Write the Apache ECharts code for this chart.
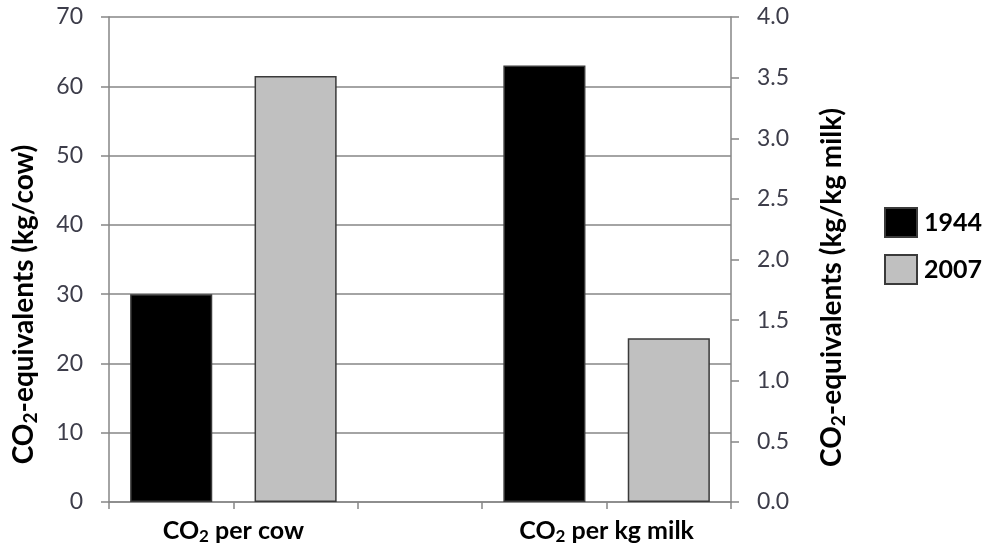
<!DOCTYPE html>
<html>
<head>
<meta charset="utf-8">
<script src="https://cdn.jsdelivr.net/npm/echarts@6/dist/echarts.min.js"></script>
<style>
html,body{margin:0;padding:0;background:#fff;}
#chart{width:991px;height:549px;}
</style>
</head>
<body>
<div id="chart"></div>
<script>
// ---- data ----
const years = ['1944', '2007'];
const perCow = [30, 61.5];          // left axis, kg/cow
const perKgMilk = [3.6, 1.35];      // right axis, kg/kg milk
const slots = ['cow-1944', 'cow-2007', 'gap', 'milk-1944', 'milk-2007'];
const groupTickLabels = ['', 'CO2 per cow', '', '', 'CO2 per kg milk', ''];
const leftTitle = 'CO2-equivalents (kg/cow)';
const rightTitle = 'CO2-equivalents (kg/kg milk)';
const colors = ['#000000', '#c0c0c0'];

const FONT = 'Lato, "Open Sans", sans-serif';
function sub(s) {
  if (!s) return '';
  const i = s.indexOf('CO2');
  if (i < 0) return '{a|' + s + '}';
  return (i > 0 ? '{a|' + s.slice(0, i) + '}' : '') + '{a|CO}{b|2}' + (s.length > i + 3 ? '{a|' + s.slice(i + 3) + '}' : '');
}
function rich(size) {
  const sb = Math.round(size * 0.68);
  return {
    a: { fontFamily: FONT, fontWeight: 'bold', fontSize: size, color: '#000', lineHeight: size + 4 },
    b: { fontFamily: FONT, fontWeight: 'bold', fontSize: sb, color: '#000', lineHeight: sb, verticalAlign: 'bottom' }
  };
}

const series = [];
years.forEach((y, i) => {
  series.push({
    name: y, type: 'bar', xAxisIndex: 0, yAxisIndex: 0,
    barGap: '-100%', barCategoryGap: '34%',
    itemStyle: { color: colors[i], borderColor: '#3a3a3a', borderWidth: 1.5 },
    data: [[slots[i], perCow[i]]]
  });
  series.push({
    name: y, type: 'bar', xAxisIndex: 0, yAxisIndex: 1,
    barGap: '-100%', barCategoryGap: '34%',
    itemStyle: { color: colors[i], borderColor: '#3a3a3a', borderWidth: 1.5 },
    data: [[slots[3 + i], perKgMilk[i]]]
  });
});

const axisGray = '#868686';
const tickColor = '#3d3d4a';
const chart = echarts.init(document.getElementById('chart'), null, { renderer: 'canvas' });
chart.setOption({
  animation: false,
  backgroundColor: '#fff',
  grid: { left: 109, right: 260, top: 17, bottom: 47, containLabel: false },
  legend: {
    data: years,
    orient: 'vertical',
    left: 884, top: 207, padding: 0,
    itemWidth: 32, itemHeight: 29, itemGap: 16,
    icon: 'rect',
    textStyle: { fontFamily: FONT, fontWeight: 'bold', fontSize: 25, color: '#000', padding: [0, 0, 0, 2] }
  },
  xAxis: [
    {
      type: 'category', data: slots, position: 'bottom',
      axisLine: { lineStyle: { color: axisGray, width: 1.5 } },
      axisTick: { show: true, interval: 0, length: 7, lineStyle: { color: axisGray, width: 1.5 } },
      axisLabel: { show: false }
    },
    {
      type: 'category', data: groupTickLabels, position: 'bottom', boundaryGap: false,
      axisLine: { show: false }, axisTick: { show: false },
      axisLabel: { interval: 0, margin: 14, formatter: v => sub(v), rich: rich(25) }
    }
  ],
  yAxis: [
    {
      type: 'value', min: 0, max: 70, interval: 10, position: 'left',
      name: sub(leftTitle), nameLocation: 'middle', nameGap: 69, nameRotate: 90,
      nameTextStyle: { rich: rich(28), padding: [0, 90, 0, 0] },
      axisLine: { show: true, lineStyle: { color: axisGray, width: 1.5 } },
      axisTick: { show: true, length: 8, lineStyle: { color: axisGray, width: 1.5 } },
      axisLabel: { margin: 26, fontFamily: FONT, fontSize: 23, color: tickColor },
      splitLine: { show: true, lineStyle: { color: axisGray, width: 1.5 } }
    },
    {
      type: 'value', min: 0, max: 4, interval: 0.5, position: 'right',
      name: sub(rightTitle), nameLocation: 'middle', nameGap: 85, nameRotate: 90,
      nameTextStyle: { rich: rich(28), padding: [0, 56, 0, 0] },
      axisLine: { show: true, lineStyle: { color: axisGray, width: 1.5 } },
      axisTick: { show: true, length: 8, lineStyle: { color: axisGray, width: 1.5 } },
      axisLabel: { margin: 26, fontFamily: FONT, fontSize: 23, color: tickColor, formatter: v => v.toFixed(1) },
      splitLine: { show: false }
    }
  ],
  series: series
});
</script>
</body>
</html>
